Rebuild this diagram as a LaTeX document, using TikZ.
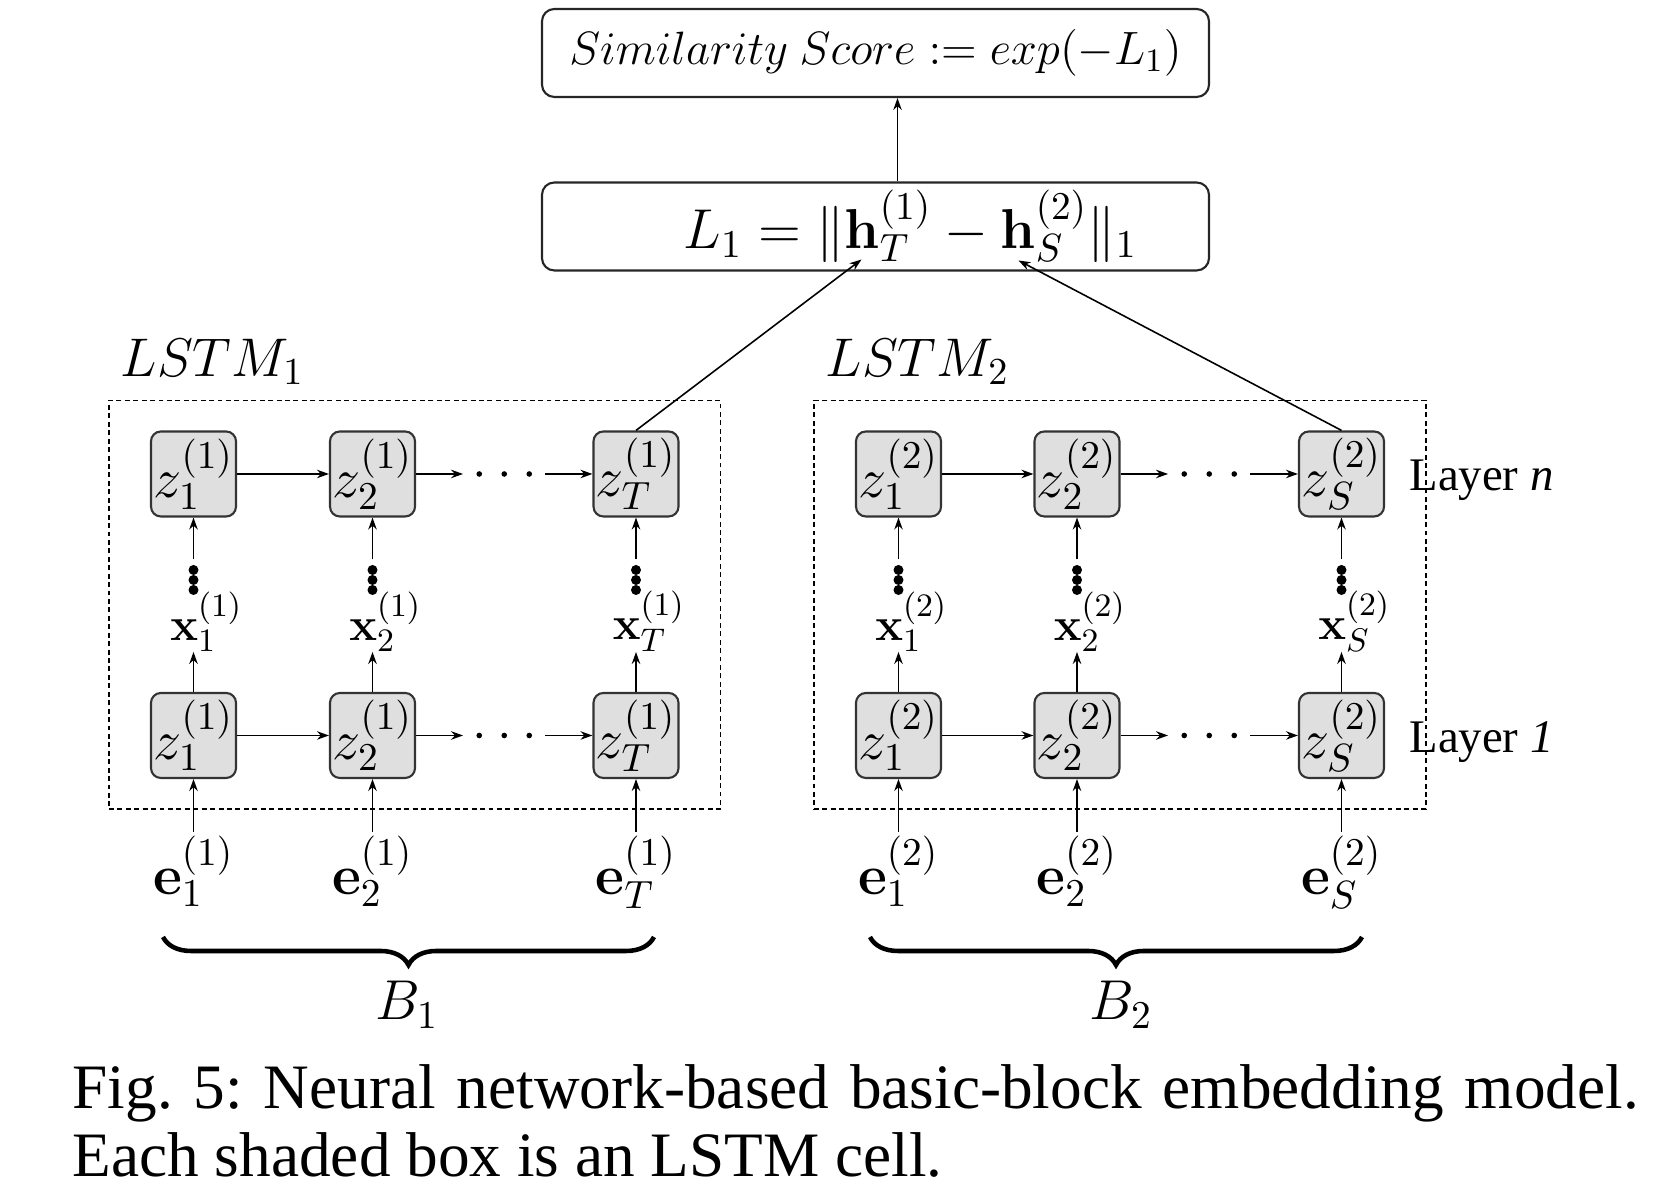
\RequirePackage{fix-cm}
\documentclass[tikz,border=0pt]{standalone}
\usepackage[no-math]{fontspec}
\IfFontExistsTF{LiberationSerif-Regular.ttf}
	{\setmainfont{LiberationSerif}[Extension=.ttf, UprightFont=*-Regular, ItalicFont=*-Italic, BoldFont=*-Bold, BoldItalicFont=*-BoldItalic]}
	{\setmainfont{Liberation Serif}}
\usetikzlibrary{calc,positioning,fit,arrows.meta,decorations.pathreplacing}
\tikzstyle{cell}     = [rectangle, rounded corners=2.8pt, draw=black!80, line width=0.6pt, fill=gray!25, minimum width=0.85cm, minimum height=0.85cm, inner sep=0pt, font=\fontsize{16}{19}\selectfont]
\tikzstyle{calcbox}  = [rectangle, rounded corners=3.5pt, draw=black!85, line width=0.6pt, minimum width=6.67cm, minimum height=0.88cm, inner sep=0pt]
\tikzstyle{group}    = [draw, dash pattern=on 1.4pt off 1pt, line width=0.35pt, inner xsep=0.41cm, inner ysep=0.3cm]
\tikzstyle{link}     = [->, >={Stealth[length=1.2mm, width=0.85mm]}, line width=0.45pt]
\tikzstyle{vdotsbox} = [minimum width=0.14cm, minimum height=0.4cm, inner sep=0pt, path picture={\foreach \j in {-1,0,1} \fill ([yshift=\j*0.1cm]path picture bounding box.center) circle (0.05cm);}]
\tikzstyle{hdotsbox} = [minimum width=0.81cm, minimum height=0.1cm, inner sep=0pt, path picture={\foreach \j in {-1,0,1} \fill ([xshift=\j*0.25cm]path picture bounding box.center) circle (0.028cm);}]
\tikzstyle{bracket}  = [decorate, decoration={brace, mirror, amplitude=0.28cm}, line width=1.3pt]
\tikzstyle{big}      = [font=\fontsize{16}{19}\selectfont]

\begin{document}
\begin{tikzpicture}[font=\fontsize{13.3}{16}\selectfont]
		\useasboundingbox (0,0) rectangle (16.59,11.93);

		% score and distance
		\node[calcbox] (score) at (8.755,11.40) {$Similarity\ Score := exp(-L_1)$};
		\node[calcbox, big] (l1) at (8.755,9.665) {\hspace*{0.7cm}$L_1 = \|\mathbf{h}^{(1)}_T - \mathbf{h}^{(2)}_S\|_1$};
		\coordinate (hT) at ([shift={(-0.14,-0.33)}]l1.center);
		\coordinate (hS) at ([shift={(1.43,-0.34)}]l1.center);
		\draw[link] ([xshift=0.22cm]l1.north) -- ([xshift=0.22cm]score.south);

		% cells, one column at a time
		\foreach \grp/\col/\low/\up/\x in {a/1/1/1/1.935, a/2/2/1/3.725, a/3/T/1/6.36,
				b/1/1/2/8.985, b/2/2/2/10.77, b/3/S/2/13.415} {
				\node[cell] (\grp\col n) at (\x,7.19) {\makebox[0pt]{$z^{(\up)}_{\low}$}};
				\node[cell] (\grp\col o) at (\x,4.575) {\makebox[0pt]{$z^{(\up)}_{\low}$}};
				\node[anchor=south, inner sep=0pt] (\grp\col x) at (\x+0.13,5.41) {$\mathbf{x}^{(\up)}_{\low}$};
				\node[vdotsbox] (\grp\col d) at (\x,6.13) {};
				\node[anchor=north, inner sep=1pt, big] (\grp\col e) at (\x,3.61) {$\mathbf{e}^{(\up)}_{\low}$};
				\draw[link] (\grp\col o) -- (\grp\col o |- \grp\col x.south);
				\draw[link] (\grp\col d) -- (\grp\col n);
				\draw[link] (\grp\col e) -- (\grp\col o);
			}

		% time steps
		\foreach \grp in {a,b} {
				\foreach \row in {n,o} {
						\node[hdotsbox] (\grp h\row) at ($(\grp 2\row)!0.5!(\grp 3\row)$) {};
						\draw[link] (\grp 1\row) -- (\grp 2\row);
						\draw[link] (\grp 2\row) -- (\grp h\row);
						\draw[link] (\grp h\row) -- (\grp 3\row);
					}
			}

		% the two networks
		\node[group, fit=(a1n)(a3o)] (box1) {};
		\node[group, fit=(b1n)(b3o)] (box2) {};
		\node[anchor=base west, font=\fontsize{15.5}{18}\selectfont] (lstm1) at ($(box1.north west)+(0,0.23)$) {$LSTM_1$};
		\node[anchor=base west, font=\fontsize{15.5}{18}\selectfont] (lstm2) at ($(box2.north west)+(0,0.23)$) {$LSTM_2$};
		\node[right=0.12cm of b3n, yshift=-0.06cm] (layn) {Layer \textit{n}};
		\node[right=0.12cm of b3o, yshift=-0.07cm] (lay1) {Layer \textit{1}};

		\draw[link] (a3n.north) -- (hT);
		\draw[link] (b3n.north) -- (hS);

		% blocks
		\draw[bracket] (1.63,2.56) -- (6.54,2.56);
		\draw[bracket] (8.70,2.56) -- (13.62,2.56);
		\node[big] (blk1) at (4.07,1.88) {$B_1$};
		\node[big] (blk2) at (11.21,1.88) {$B_2$};

		\node[anchor=north west, text width=15.66cm, align=justify, inner sep=0pt, font=\fontsize{18}{19.4}\selectfont] (cap) at (0.72,1.293)
		{\frenchspacing Fig.~5: Neural network-based basic-block embedding model. Each shaded box is an LSTM cell.};
	\end{tikzpicture}
\end{document}
